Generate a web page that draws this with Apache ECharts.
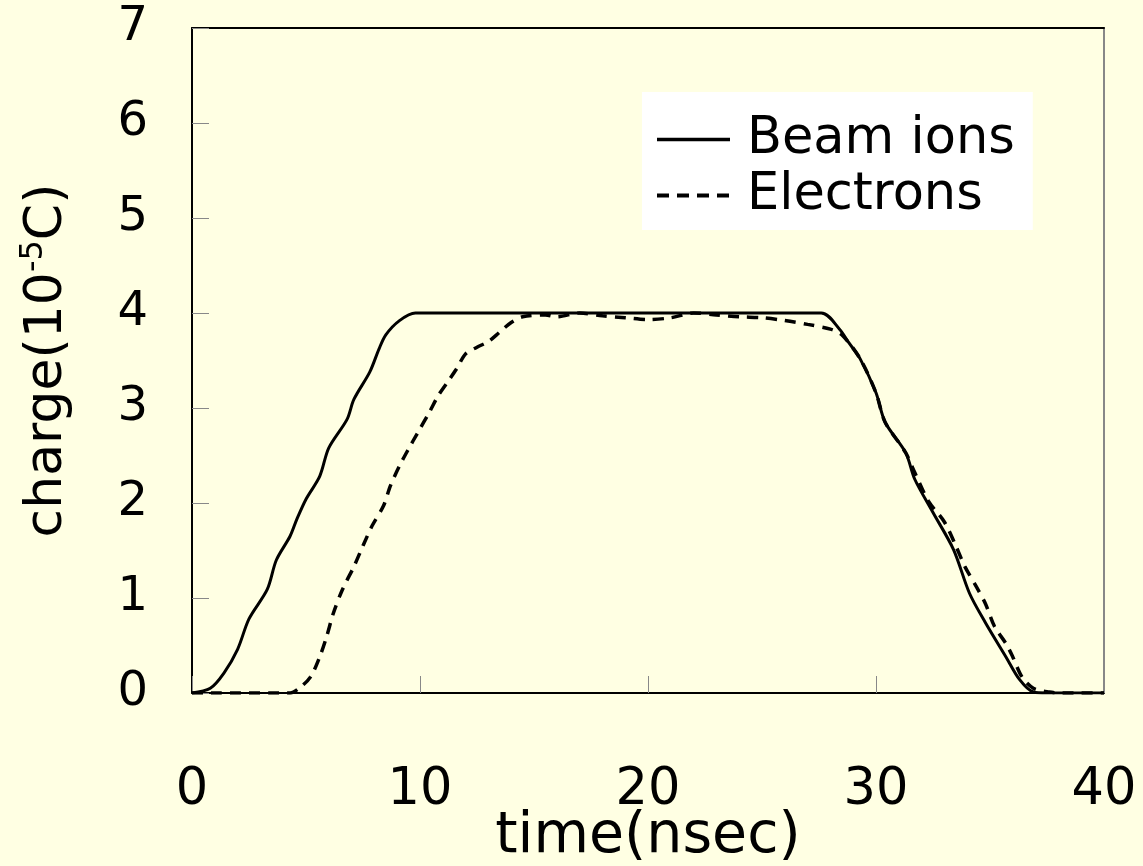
<!DOCTYPE html>
<html>
<head>
<meta charset="utf-8">
<script src="https://cdn.jsdelivr.net/npm/echarts@6/dist/echarts.min.js"></script>
<style>
html,body{margin:0;padding:0;background:#FFFFE3;overflow:hidden;}
#c{width:1143px;height:866px;}
</style>
</head>
<body>
<div id="c"></div>
<script>
// Data
const beamTime = [0, 0.8, 1.4, 2.0, 2.5, 3.3, 3.7, 4.3, 4.6, 5.0, 5.6, 6.0, 6.8, 7.1, 7.8, 8.2, 8.5, 9.1, 9.8, 27.6, 28.4, 28.8, 29.3, 30.0, 30.4, 31.3, 31.7, 32.5, 33.4, 34.1, 34.8, 35.7, 36.3, 36.9, 37.5, 40];
const beamCharge = [0, 0.05, 0.21, 0.46, 0.78, 1.09, 1.40, 1.65, 1.83, 2.04, 2.28, 2.58, 2.88, 3.09, 3.38, 3.62, 3.77, 3.92, 4.0, 4.0, 3.83, 3.69, 3.52, 3.16, 2.85, 2.53, 2.25, 1.90, 1.51, 1.05, 0.74, 0.38, 0.14, 0.01, 0, 0];

const elecTime = [0, 4.3, 4.7, 5.2, 5.6, 5.9, 6.2, 6.6, 7.1, 7.5, 7.9, 8.4, 8.7, 9.1, 9.5, 9.9, 10.4, 10.8, 11.2, 11.6, 12.0, 12.5, 13.0, 13.5, 14.0, 14.5, 15.5, 16.0, 17.0, 18.0, 19.0, 20.0, 21.0, 22.0, 23.0, 24.0, 25.0, 26.0, 27.0, 28.0, 28.5, 29.3, 30.0, 30.4, 31.3, 31.7, 32.3, 33.0, 33.5, 33.9, 34.4, 34.8, 35.2, 35.7, 36.0, 36.4, 36.9, 37.6, 38.2, 40];
const elecCharge = [0, 0, 0.05, 0.17, 0.38, 0.59, 0.84, 1.09, 1.33, 1.55, 1.76, 1.97, 2.18, 2.39, 2.57, 2.74, 2.95, 3.13, 3.27, 3.41, 3.57, 3.64, 3.70, 3.80, 3.90, 3.96, 3.98, 3.96, 4.00, 3.97, 3.95, 3.93, 3.95, 4.00, 3.98, 3.96, 3.95, 3.92, 3.88, 3.83, 3.77, 3.52, 3.16, 2.85, 2.53, 2.32, 2.02, 1.80, 1.55, 1.33, 1.12, 0.94, 0.70, 0.52, 0.38, 0.17, 0.05, 0.01, 0, 0];

const seriesNames = ['Beam ions', 'Electrons'];
const xTitle = 'time(nsec)';

const FONT = 'DejaVu Sans';
const pairs = (xs, ys) => xs.map((x, i) => [x, ys[i]]);

const chart = echarts.init(document.getElementById('c'), null, {renderer: 'canvas', width: 1143, height: 866});
chart.setOption({
  backgroundColor: '#FFFFE3',
  animation: false,
  grid: {left: 192, top: 28, width: 912, height: 665, containLabel: false, outerBoundsMode: 'none'},
  legend: {
    orient: 'vertical',
    left: 642, top: 92,
    backgroundColor: '#ffffff',
    padding: [22, 18, 9, 13],
    itemGap: 5,
    itemWidth: 73,
    itemHeight: 20,
    data: [
      {name: seriesNames[0], lineStyle: {color: '#000', width: 3.5, type: 'solid'}},
      {name: seriesNames[1], lineStyle: {color: '#000', width: 4, type: [12, 8]}}
    ],
    itemStyle: {color: 'rgba(0,0,0,0)', borderWidth: 0, opacity: 0},
    textStyle: {fontFamily: FONT, fontSize: 51, color: '#000', padding: [0, 0, 0, 12]}
  },
  xAxis: [{
    type: 'value', min: 0, max: 40, interval: 10,
    name: xTitle, nameLocation: 'middle', nameGap: 116, nameMoveOverlap: false,
    nameTextStyle: {fontFamily: FONT, fontSize: 57, color: '#000'},
    axisLine: {show: true, onZero: false, lineStyle: {color: '#000', width: 2}},
    axisTick: {show: true, inside: true, length: 17, lineStyle: {color: '#888', width: 1}},
    axisLabel: {margin: 72, fontFamily: FONT, fontSize: 51, color: '#000'},
    splitLine: {show: false}
  }, {
    type: 'value', min: 0, max: 40, position: 'top',
    axisLine: {show: true, onZero: false, lineStyle: {color: '#000', width: 2}},
    axisTick: {show: false}, axisLabel: {show: false}, splitLine: {show: false}
  }],
  yAxis: [{
    type: 'value', min: 0, max: 7, interval: 1,
    name: 'charge(10{sup|-5}C)', nameLocation: 'middle', nameGap: 116, nameRotate: 90, nameMoveOverlap: false,
    nameTextStyle: {fontFamily: FONT, fontSize: 52, color: '#000',
      rich: {sup: {fontFamily: FONT, fontSize: 32, color: '#000', verticalAlign: 'top', padding: [0, 0, 26, 0]}}},
    axisLine: {show: true, onZero: false, lineStyle: {color: '#000', width: 2}},
    axisTick: {show: true, inside: true, length: 17, lineStyle: {color: '#888', width: 1}},
    axisLabel: {margin: 44, fontFamily: FONT, fontSize: 48, color: '#000'},
    splitLine: {show: false}
  }, {
    type: 'value', min: 0, max: 7, position: 'right',
    axisLine: {show: true, onZero: false, lineStyle: {color: '#888', width: 2}},
    axisTick: {show: false}, axisLabel: {show: false}, splitLine: {show: false}
  }],
  series: [{
    name: seriesNames[0], type: 'line', xAxisIndex: 0, yAxisIndex: 0,
    data: pairs(beamTime, beamCharge),
    symbol: 'none', smooth: 0.3,
    lineStyle: {color: '#000', width: 3, type: 'solid'},
    itemStyle: {color: '#000'}
  }, {
    name: seriesNames[1], type: 'line', xAxisIndex: 0, yAxisIndex: 0,
    data: pairs(elecTime, elecCharge),
    symbol: 'none', smooth: 0.3,
    lineStyle: {color: '#000', width: 3.5, type: [11, 8]},
    itemStyle: {color: '#000'}
  }]
});
</script>
</body>
</html>
